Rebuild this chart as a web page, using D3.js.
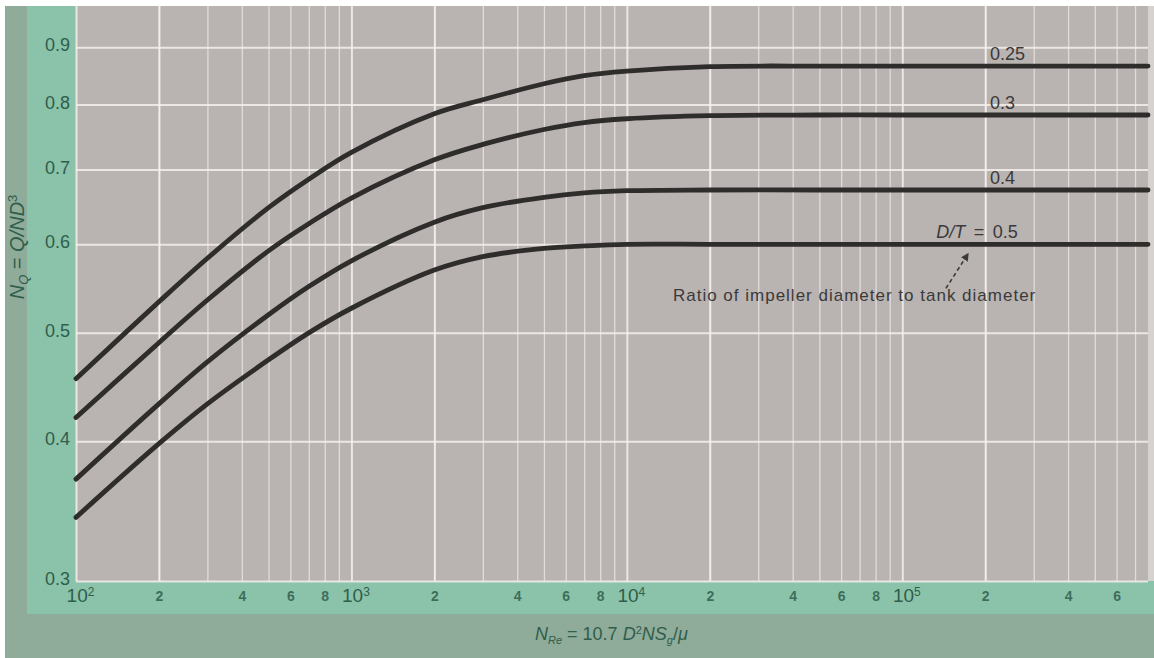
<!DOCTYPE html>
<html>
<head>
<meta charset="utf-8">
<script src="https://cdn.jsdelivr.net/npm/d3@7"></script>
<style>
  html, body { margin: 0; padding: 0; background: #ffffff; }
  svg { display: block; font-family: "Liberation Sans", Arial, sans-serif; }
</style>
</head>
<body>
<svg id="chart"></svg>
<script>
let reynolds = [100, 200, 300, 500, 700, 1000, 2000, 3000, 5000, 7000, 10000, 20000, 50000, 100000, 780000]
// pumping number N_Q for each D/T ratio
let nq025 = [0.455, 0.533, 0.583, 0.647, 0.686, 0.725, 0.785, 0.808, 0.835, 0.849, 0.857, 0.865, 0.866, 0.866, 0.866]
let nq03  = [0.420, 0.490, 0.535, 0.592, 0.626, 0.660, 0.714, 0.737, 0.760, 0.771, 0.777, 0.782, 0.783, 0.783, 0.783]
let nq04  = [0.370, 0.432, 0.471, 0.519, 0.550, 0.580, 0.628, 0.647, 0.661, 0.667, 0.670, 0.671, 0.671, 0.671, 0.671]
let nq05  = [0.342, 0.398, 0.432, 0.473, 0.500, 0.526, 0.569, 0.585, 0.595, 0.598, 0.600, 0.600, 0.600, 0.600, 0.600]

let ratios = ["0.25", "0.3", "0.4", "0.5"]
let yTicks = [0.3, 0.4, 0.5, 0.6, 0.7, 0.8, 0.9]
let decades = [100, 1000, 10000, 100000, 1000000]
let minorMults = [2, 3, 4, 5, 6, 7, 8, 9]
let labeledMults = [2, 4, 6, 8]

let width = 1154
let height = 658
let padLeft = 76, padRight = 1148, padTop = 6, padBottom = 581
let axisText = "#2f5e4c"

let svg = d3.select("#chart").attr("width", width).attr("height", height)

let xScale = d3.scaleLog().domain([100, 780000]).range([padLeft, padRight])
let yScale = d3.scaleLog().domain([0.3, 0.98]).range([padBottom, padTop])

// backgrounds: paper, teal frame, darker outer strips
svg.append("rect").attr("x", 0).attr("y", 0).attr("width", width).attr("height", height).attr("fill", "#ffffff")
svg.append("rect").attr("x", 5).attr("y", 6).attr("width", width - 5).attr("height", height - 6).attr("fill", "#8fab99")
svg.append("rect").attr("x", 27).attr("y", 6).attr("width", width - 27).attr("height", 608).attr("fill", "#8bc2aa")
svg.append("rect").attr("x", padLeft).attr("y", padTop).attr("width", padRight - padLeft).attr("height", padBottom - padTop).attr("fill", "#b9b3b1")
svg.append("rect").attr("x", padRight).attr("y", padTop).attr("width", width - padRight).attr("height", padBottom - padTop).attr("fill", "#d6d2cf")

// grid values
let minorX = []
decades.forEach(d => minorMults.forEach(m => { if (d * m <= 780000) minorX.push(d * m) }))
let majorX = decades.filter(d => d <= 780000)
decades.forEach(d => { if (d * 2 <= 780000) majorX.push(d * 2) })

let grid = svg.append("g")
grid.append("g")
  .attr("transform", "translate(0," + padBottom + ")")
  .call(d3.axisBottom(xScale).tickValues(minorX).tickSize(-(padBottom - padTop)).tickFormat(""))
  .call(g => g.select(".domain").remove())
  .call(g => g.selectAll("line").attr("stroke", "#f2eeea").attr("stroke-opacity", 0.7).attr("stroke-width", 1.3))
grid.append("g")
  .attr("transform", "translate(0," + padBottom + ")")
  .call(d3.axisBottom(xScale).tickValues(majorX).tickSize(-(padBottom - padTop)).tickFormat(""))
  .call(g => g.select(".domain").remove())
  .call(g => g.selectAll("line").attr("stroke", "#f4f0ec").attr("stroke-opacity", 0.85).attr("stroke-width", 2))
grid.append("g")
  .attr("transform", "translate(" + padLeft + ",0)")
  .call(d3.axisLeft(yScale).tickValues(yTicks).tickSize(-(padRight - padLeft)).tickFormat(""))
  .call(g => g.select(".domain").remove())
  .call(g => g.selectAll("line").attr("stroke", "#f4f0ec").attr("stroke-opacity", 0.85).attr("stroke-width", 2))

// y tick labels
svg.append("g")
  .attr("transform", "translate(" + padLeft + ",0)")
  .call(d3.axisLeft(yScale).tickValues(yTicks).tickSize(0).tickPadding(6).tickFormat(d3.format(".1f")))
  .call(g => g.select(".domain").remove())
  .call(g => g.selectAll("text").attr("fill", axisText).attr("font-size", 18).attr("dy", "0.2em"))

// x tick labels: decades with superscripts, 2 4 6 8 small
let xLabelVals = []
decades.forEach(d => {
  xLabelVals.push(d)
  labeledMults.forEach(m => { if (d * m <= 780000) xLabelVals.push(d * m) })
})
xLabelVals = xLabelVals.filter(v => v <= 780000)
svg.append("g")
  .attr("transform", "translate(0," + padBottom + ")")
  .call(d3.axisBottom(xScale).tickValues(xLabelVals).tickSize(0).tickPadding(10).tickFormat(""))
  .call(g => g.select(".domain").remove())
  .call(g => g.selectAll(".tick text").each(function (d) {
    let t = d3.select(this).attr("fill", axisText).attr("dy", "0.71em")
    let e = Math.round(Math.log10(d))
    if (Math.abs(d - Math.pow(10, e)) < 1e-6) {
      t.attr("font-size", 19).attr("y", 8).attr("dx", 4)
      t.append("tspan").text("10")
      t.append("tspan").attr("font-size", 12).attr("dy", "-0.5em").text(e)
    } else {
      t.attr("font-size", 14).attr("y", 10).attr("font-weight", "bold").attr("fill-opacity", 0.85)
        .text(Math.round(d / Math.pow(10, Math.floor(Math.log10(d)))))
    }
  }))

// curves
let series = [nq025, nq03, nq04, nq05]
let line = d3.line()
  .x(d => xScale(d[0]))
  .y(d => yScale(d[1]))
  .curve(d3.curveCatmullRom.alpha(0.5))

series.forEach(vals => {
  svg.append("path")
    .datum(reynolds.map((r, i) => [r, vals[i]]))
    .attr("d", line)
    .attr("fill", "none")
    .attr("stroke", "#2e2d2c")
    .attr("stroke-width", 4.8)
    .attr("stroke-linecap", "round")
})

// curve labels
let labelRe = 2.08e5
series.forEach((vals, i) => {
  let t = svg.append("text")
    .attr("x", xScale(labelRe))
    .attr("y", yScale(vals[vals.length - 1]) - 6)
    .attr("font-size", 18)
    .attr("fill", "#3a3a3a")
  if (i == 3) {
    t.attr("text-anchor", "end").attr("x", xScale(labelRe) + 28)
    t.append("tspan").attr("font-style", "italic").text("D/T")
    t.append("tspan").text(" \u2009=\u2009 " + ratios[i])
  } else {
    t.text(ratios[i])
  }
})

// annotation
svg.append("defs").append("marker")
  .attr("id", "arrow").attr("viewBox", "0 0 10 10").attr("refX", 8).attr("refY", 5)
  .attr("markerWidth", 5).attr("markerHeight", 5).attr("orient", "auto")
  .append("path").attr("d", "M0,0 L10,5 L0,10 z").attr("fill", "#3a3a3a")
svg.append("line")
  .attr("x1", xScale(1.44e5)).attr("y1", yScale(0.548))
  .attr("x2", xScale(1.73e5)).attr("y2", yScale(0.588))
  .attr("stroke", "#3a3a3a").attr("stroke-width", 1.6).attr("stroke-dasharray", "4,3")
  .attr("marker-end", "url(#arrow)")
svg.append("text")
  .attr("x", xScale(1.47e4)).attr("y", yScale(0.534))
  .attr("font-size", 17).attr("letter-spacing", 1).attr("fill", "#3a3a3a")
  .text("Ratio of impeller diameter to tank diameter")

// axis titles
let xTitle = svg.append("text").attr("x", 535).attr("y", 640).attr("font-size", 18).attr("fill", axisText)
xTitle.append("tspan").attr("font-style", "italic").text("N")
xTitle.append("tspan").attr("font-style", "italic").attr("font-size", 11).attr("dy", 4).text("Re")
xTitle.append("tspan").attr("dy", -4).text(" = 10.7 ")
xTitle.append("tspan").attr("font-style", "italic").text("D")
xTitle.append("tspan").attr("font-size", 11).attr("dy", -6).text("2")
xTitle.append("tspan").attr("font-style", "italic").attr("dy", 6).text("NS")
xTitle.append("tspan").attr("font-style", "italic").attr("font-size", 11).attr("dy", 4).text("g")
xTitle.append("tspan").attr("dy", -4).text("/")
xTitle.append("tspan").attr("font-style", "italic").text("μ")

let yTitle = svg.append("text")
  .attr("transform", "translate(24,247) rotate(-90)")
  .attr("text-anchor", "middle").attr("font-size", 20).attr("fill", axisText)
yTitle.append("tspan").attr("font-style", "italic").text("N")
yTitle.append("tspan").attr("font-style", "italic").attr("font-size", 13).attr("dy", 4).text("Q")
yTitle.append("tspan").attr("dy", -4).text(" = ")
yTitle.append("tspan").attr("font-style", "italic").text("Q/ND")
yTitle.append("tspan").attr("font-size", 13).attr("dy", -7).text("3")
</script>
</body>
</html>
